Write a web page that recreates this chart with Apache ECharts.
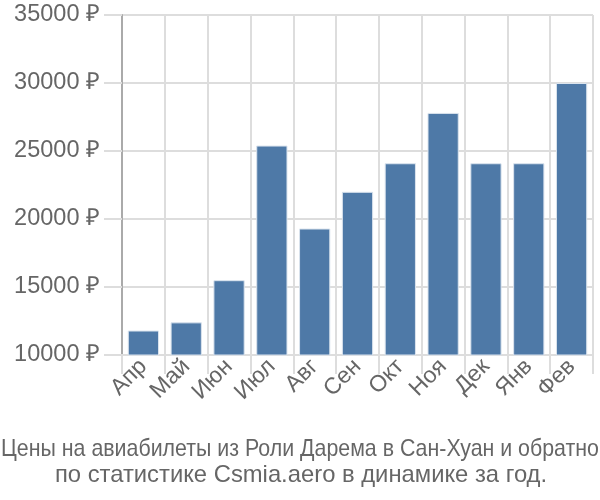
<!DOCTYPE html>
<html><head><meta charset="utf-8">
<script src="https://cdn.jsdelivr.net/npm/echarts@6/dist/echarts.min.js"></script>
<style>html,body{margin:0;padding:0;background:#fff}#c{width:600px;height:500px}</style>
</head><body><div id="c"></div>
<script>
var categories = ["Апр","Май","Июн","Июл","Авг","Сен","Окт","Ноя","Дек","Янв","Фев"];
var prices = [11800,12400,15500,25400,19300,22000,24100,27800,24100,24100,30000];
var yTicks = [10000,15000,20000,25000,30000,35000];
var titleLines = ["Цены на авиабилеты из Роли Дарема в Сан-Хуан и обратно","по статистике Csmia.aero в динамике за год."];

var FF = '"Liberation Sans", Arial, sans-serif';
var chart = echarts.init(document.getElementById('c'), null, {renderer:'canvas'});

// measure line 1 to fit it to the width like the reference
var ctx = document.createElement('canvas').getContext('2d');
ctx.font = '23.8px ' + FF;
var w1 = ctx.measureText(titleLines[0]).width;
var sx1 = Math.min(1, 598 / w1);

chart.setOption({
  animation:false,
  textStyle:{fontFamily:FF},
  graphic:[
    {type:'text', x:300, y:449, scaleX:sx1, silent:true,
      style:{text:titleLines[0], fontSize:23.8, fontFamily:FF, fill:'#666', align:'center', verticalAlign:'middle'}},
    {type:'text', x:301, y:475, silent:true,
      style:{text:titleLines[1], fontSize:23.8, fontFamily:FF, fill:'#666', align:'center', verticalAlign:'middle'}}
  ],
  grid:{left:122,right:7,top:15,bottom:145,containLabel:false},
  xAxis:{type:'category',data:categories,
    axisLine:{lineStyle:{color:'#ddd',width:2}},
    axisTick:{show:true,alignWithLabel:false,length:19,lineStyle:{color:'#ddd',width:2}},
    splitLine:{show:true,lineStyle:{color:'#ddd',width:2}},
    axisLabel:{rotate:45,fontSize:23,color:'#666',margin:8,fontFamily:FF}},
  yAxis:{type:'value',min:yTicks[0],max:yTicks[yTicks.length-1],interval:5000,
    axisLine:{show:true,lineStyle:{color:'#aaa',width:2}},
    axisTick:{show:true,length:18,lineStyle:{color:'#ddd',width:2}},
    splitLine:{lineStyle:{color:'#ddd',width:2}},
    axisLabel:{fontSize:23.5,color:'#666',margin:22,fontFamily:FF,formatter:function(v){return v+' ₽';}}},
  series:[{type:'bar',data:prices,barCategoryGap:'27%',
    itemStyle:{color:'#4e79a7',borderColor:'#dbe4ee',borderWidth:1}}]
});
</script></body></html>
